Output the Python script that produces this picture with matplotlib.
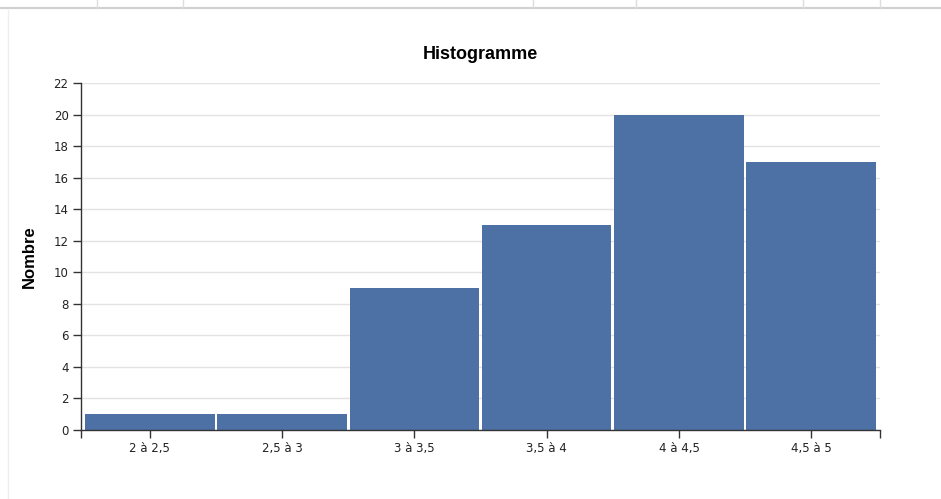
import matplotlib.pyplot as plt
from matplotlib.lines import Line2D

# data
classes = ["2 à 2,5", "2,5 à 3", "3 à 3,5", "3,5 à 4", "4 à 4,5", "4,5 à 5"]
effectifs = [1, 1, 9, 13, 20, 17]
yticks = list(range(0, 23, 2))

bar_color = "#4e71a5"
axis_color = "#333333"

fig = plt.figure(figsize=(9.41, 4.99), dpi=100)
ax = fig.add_axes([0.0861, 0.1383, 0.8491, 0.6954])

x = range(len(classes))
ax.bar(x, effectifs, width=0.98, color=bar_color, edgecolor="none", zorder=2)

ax.set_xlim(-0.52, len(classes) - 0.48)
ax.set_ylim(0, 22)
ax.set_yticks(yticks)
ax.set_xticks(list(x))
ax.set_xticklabels(classes)
ax.set_xticks([-0.52, len(classes) - 0.48], minor=True)

for side in ("top", "right"):
    ax.spines[side].set_visible(False)
for side in ("left", "bottom"):
    ax.spines[side].set_color(axis_color)
    ax.spines[side].set_linewidth(1)

ax.grid(axis="y", color="#e3e3e3", linewidth=1, zorder=0)
ax.tick_params(axis="both", which="both", length=6, width=1, color=axis_color,
               labelsize=8.5, labelcolor="#222222", pad=3)
ax.tick_params(axis="x", which="minor", length=6)

ax.set_title("Histogramme", fontsize=13, fontweight="bold",
             family="Liberation Sans", pad=17)
ax.set_ylabel("Nombre", fontsize=12, fontweight="bold",
              family="Liberation Sans", labelpad=12)

# bordure du tableau au-dessus et du cadre
fig.add_artist(Line2D([0, 1], [1 - 8 / 499, 1 - 8 / 499], color="#d0d0d0", lw=1.5))
for xp in [97, 183, 533, 636, 803, 880]:
    fig.add_artist(Line2D([xp / 941, xp / 941], [1 - 8 / 499, 1], color="#dddddd", lw=1))
fig.add_artist(Line2D([8 / 941, 8 / 941], [0, 1 - 10 / 499], color="#eeeeee", lw=1))

fig.savefig("out.png", dpi=100)
